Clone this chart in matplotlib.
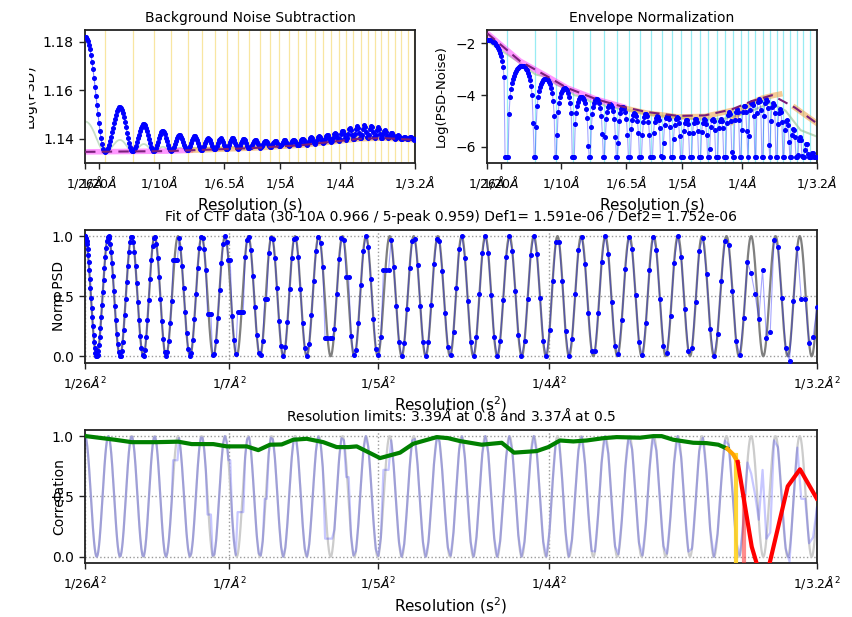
import numpy as np
import matplotlib
matplotlib.use("Agg")
import matplotlib.pyplot as plt
from matplotlib.patches import Rectangle

# ---------------- data ----------------
# resolution tick positions (Angstrom)
res_ticks_s = [26, 20, 10, 6.5, 5, 4, 3.2]
res_ticks_s2 = [26, 7, 5, 4, 3.2]

# positions of the CTF zeros (s^2 in 1/A^2)
ctf_zeros_s2 = [0.00302, 0.00608, 0.00914, 0.01212, 0.01528, 0.01834, 0.02141,
                0.02447, 0.02753, 0.03061, 0.03376, 0.03686, 0.03994, 0.04309,
                0.04624, 0.04944, 0.05250, 0.05565, 0.05886, 0.06205, 0.06507,
                0.06827, 0.07142, 0.07462, 0.07778, 0.08097, 0.08412, 0.08741,
                0.09060, 0.09381, 0.09696]

# --- Background noise subtraction panel
bg_s = [0.0385, 0.0399, 0.1063, 0.1755, 0.2170, 0.2444, 0.2668, 0.2859, 0.3108, 0.3125]
bg_val = [1.1345, 1.1345, 1.1348, 1.1360, 1.1372, 1.1387, 1.1399, 1.1402, 1.1395, 1.1395]
# height of each CTF ring above background (one per oscillation)
psd_ring_height = [0.0475, 0.0185, 0.0112, 0.0084, 0.0064, 0.0058, 0.0047, 0.0045,
                   0.0045, 0.0040, 0.0033, 0.0027, 0.0025, 0.0025, 0.0025, 0.0026,
                   0.0028, 0.0030, 0.0032, 0.0036, 0.0042, 0.0050, 0.0055, 0.0055,
                   0.0052, 0.0045, 0.0035, 0.0025, 0.0016, 0.0011, 0.0010, 0.0008]
smooth_ring_height = [0.0125, 0.0048, 0.0030, 0.0018, 0.0012, 0.0010, 0.0008, 0.0006,
                      0.0005, 0.0005, 0.0005, 0.0005, 0.0005, 0.0005, 0.0005, 0.0005,
                      0.0005, 0.0005, 0.0005, 0.0005, 0.0005, 0.0005, 0.0005, 0.0005,
                      0.0005, 0.0005, 0.0005, 0.0005, 0.0005, 0.0005, 0.0005, 0.0005]
bg_magenta_end_s = 0.126

# --- Envelope normalization panel
env_s = [0.03846, 0.06586, 0.08804, 0.10465, 0.12956, 0.15165, 0.17108, 0.19732,
         0.21949, 0.24167, 0.25827, 0.27513, 0.29423, 0.31250]
env_val = [-1.60, -2.68, -3.26, -3.71, -4.16, -4.45, -4.65, -4.80,
           -4.78, -4.55, -4.23, -4.00, -4.48, -5.09]
ring_peak_log = [-1.85, -2.86, -3.36, -3.72, -4.05, -4.15, -4.35, -4.45,
                 -4.70, -4.72, -4.80, -4.78, -4.85, -4.95, -4.90, -4.92,
                 -4.90, -4.90, -4.65, -4.55, -4.40, -4.25, -4.15, -4.15,
                 -4.30, -4.55, -4.95, -5.30, -5.60, -5.85, -6.20, -6.20]
ring_noise_level = [0.03, 0.03, 0.03, 0.04, 0.05, 0.06, 0.08, 0.10,
                    0.15, 0.15, 0.15, 0.15, 0.15, 0.15, 0.15, 0.15,
                    0.15, 0.15, 0.15, 0.15, 0.12, 0.10, 0.10, 0.10,
                    0.10, 0.10, 0.10, 0.12, 0.15, 0.15, 0.15, 0.15]
log_floor = -6.4
smooth_s = [0.03846, 0.06586, 0.07880, 0.08876, 0.09623, 0.10453, 0.11118, 0.11782,
            0.12447, 0.13111, 0.13775, 0.15352, 0.17428, 0.21580, 0.23656, 0.25317,
            0.27393, 0.28639, 0.29884, 0.31250]
smooth_val = [-1.90, -2.75, -3.20, -3.30, -3.60, -3.75, -4.00, -4.05,
              -4.25, -4.25, -4.45, -4.55, -4.75, -4.95, -4.90, -4.70,
              -4.30, -4.60, -5.35, -5.60]
orange_rise_s = [0.24167, 0.24998, 0.25827, 0.26657, 0.27513, 0.28154]
orange_rise_val = [-5.03, -4.55, -4.30, -4.12, -4.02, -3.96]

# --- Normalized fit panel: regions where the data departs from the fit
dev_s2_lo = [0.0129, 0.0174, 0.0202, 0.0215, 0.0249, 0.0328, 0.0357, 0.0405,
             0.0888, 0.0893, 0.0905, 0.0916, 0.0937, 0.0953, 0.0972]
dev_s2_hi = [0.0138, 0.0182, 0.0208, 0.0225, 0.0256, 0.0340, 0.0363, 0.0414,
             0.0890, 0.0900, 0.0907, 0.0917, 0.0940, 0.0966, 0.0974]
dev_val = [0.80, 0.35, 0.80, 0.37, 0.48, 0.15, 0.66, 0.72,
           0.69, 0.52, 0.72, 0.20, -0.04, 0.48, 0.16]

# --- Correlation panel
corr_s2 = [0.00161, 0.00542, 0.00762, 0.01090, 0.01374, 0.01550, 0.01834, 0.02010,
           0.02273, 0.02425, 0.02579, 0.02732, 0.02885, 0.03061, 0.03279, 0.03455,
           0.03607, 0.03718, 0.04024, 0.04287, 0.04461, 0.04769, 0.04921, 0.05075,
           0.05360, 0.05623, 0.05785, 0.06083, 0.06235, 0.06389, 0.06564, 0.06740,
           0.06958, 0.07134, 0.07440, 0.07615, 0.07725, 0.07878, 0.08140, 0.08316,
           0.08469, 0.08587]
corr_val = [1.000, 0.970, 0.950, 0.950, 0.954, 0.934, 0.934, 0.915,
            0.915, 0.884, 0.929, 0.931, 0.970, 0.978, 0.950, 0.909,
            0.909, 0.915, 0.818, 0.863, 0.937, 0.992, 0.983, 0.959,
            0.929, 0.945, 0.863, 0.876, 0.909, 0.964, 0.956, 0.964,
            0.983, 0.992, 0.987, 1.000, 1.000, 0.970, 0.945, 0.942,
            0.929, 0.896]
corr_mid_s2 = [0.08587, 0.08662, 0.08724]
corr_mid_val = [0.896, 0.850, 0.785]
corr_low_s2 = [0.08724, 0.08908, 0.08994, 0.09126, 0.09381, 0.09542, 0.09762]
corr_low_val = [0.785, 0.083, -0.10, -0.10, 0.584, 0.725, 0.483]
res_limit_08 = 3.39
res_limit_05 = 3.37

title_mid = "Fit of CTF data (30-10A 0.966 / 5-peak 0.959) Def1= 1.591e-06 / Def2= 1.752e-06"
title_bot = "Resolution limits: 3.39$\\AA$ at 0.8 and 3.37$\\AA$ at 0.5"

# ---------------- helpers ----------------
s_min, s_max = 1.0 / 26, 1.0 / 3.2
s = np.linspace(s_min, s_max, 330)          # sampling grid of the spectrum
s2 = s ** 2

z = np.array(ctf_zeros_s2)
zi = np.arange(1, len(z) + 1, dtype=float)
def ring_phase(x2):
    x2 = np.asarray(x2, float)
    p = np.interp(x2, z, zi)
    lo = x2 < z[0]
    p[lo] = 1 - (z[0] - x2[lo]) / (z[1] - z[0])
    hi = x2 > z[-1]
    p[hi] = zi[-1] + (x2[hi] - z[-1]) / (z[-1] - z[-2])
    return p

def ring_shape(x2):
    return np.sin(np.pi * ring_phase(x2)) ** 2

def ring_index(x2):
    return np.clip(np.floor(ring_phase(x2) + 1e-9).astype(int), 0, 31)

# ---------------- figure ----------------
W, H = 853, 617
fig = plt.figure(figsize=(W / 100, H / 100), dpi=100)

def axrect(l, t, r, b):
    return [l / W, 1 - b / H, (r - l) / W, (b - t) / H]

ax1 = fig.add_axes(axrect(85, 30, 415, 162.5))
ax2 = fig.add_axes(axrect(487, 30, 817, 162.5))
ax3 = fig.add_axes(axrect(85, 229.5, 817, 362.5))
ax4 = fig.add_axes(axrect(85, 429.5, 817, 563))

for ax in (ax1, ax2, ax3, ax4):
    for sp in ax.spines.values():
        sp.set_linewidth(1.3)
        sp.set_color("#222222")
    ax.tick_params(labelsize=10, width=1.0, length=4.5, color="#222222")

zero_s = np.sqrt(z)
idx = ring_index(s2)
shape = ring_shape(s2)

# ---- panel 1: background noise subtraction
bg = np.interp(s, bg_s, bg_val)
h = np.array(psd_ring_height)[idx]
g = np.array(smooth_ring_height)[idx]
for zs in zero_s:
    ax1.axvline(zs, color="#f7e08a", lw=0.9, alpha=0.8, zorder=1)
ax1.plot(s, bg + g * shape, color="#8fc08f", lw=1.3, alpha=0.5, zorder=2)
m = s <= bg_magenta_end_s
ax1.plot(s[m], bg[m], color="#ff44ff", lw=4, alpha=0.55, zorder=2)
ax1.plot(s[s >= bg_magenta_end_s - 0.002], bg[s >= bg_magenta_end_s - 0.002],
         color="#f0a040", lw=4, alpha=0.55, zorder=2)
ax1.plot(s, bg + h * shape, color="blue", lw=0.8, alpha=0.5, zorder=3)
ax1.plot(s, bg + h * shape, ls="none", marker="o", ms=2.6, color="blue", zorder=4)
ax1.plot(bg_s, bg_val, color="#7a1f7a", lw=1.5, ls=(0, (5, 3)), zorder=5)
ax1.set_xlim(s_min, s_max)
ax1.set_ylim(1.1301, 1.1848)
ax1.set_yticks([1.14, 1.16, 1.18])
ax1.set_title("Background Noise Subtraction", fontsize=10)

# ---- panel 2: envelope normalization
pk = np.array(ring_peak_log)[idx]
nz = np.array(ring_noise_level)[idx]
logd = pk + np.log10(np.clip((shape - nz) / (1 - nz), 1e-9, None))
logd = np.clip(logd, log_floor, None)
for zs in zero_s:
    ax2.axvline(zs, color="#7fe8f0", lw=0.9, alpha=0.8, zorder=1)
ax2.plot(smooth_s, smooth_val, color="#8fc08f", lw=1.5, alpha=0.6, zorder=2)
env_s_a = np.array(env_s)
env_v_a = np.array(env_val)
mm = env_s_a <= 0.152
ax2.plot(env_s_a[mm], env_v_a[mm], color="#ff44ff", lw=4, alpha=0.55, zorder=2)
mo = (env_s_a >= 0.151) & (env_s_a <= 0.242)
ax2.plot(env_s_a[mo], env_v_a[mo] - 0.04, color="#f0a040", lw=4, alpha=0.55, zorder=2)
ax2.plot(orange_rise_s, orange_rise_val, color="#f0a040", lw=4, alpha=0.55, zorder=2)
mr = env_s_a >= 0.294
ax2.plot(env_s_a[mr], env_v_a[mr], color="#f0a040", lw=4, alpha=0.55, zorder=2)
ax2.plot(s, logd, color="blue", lw=0.8, alpha=0.35, zorder=3)
ax2.plot(s, logd, ls="none", marker="o", ms=2.6, color="blue", zorder=4)
ax2.plot(env_s, env_val, color="#7a1f7a", lw=1.5, ls=(0, (5, 3)), zorder=5)
ax2.set_xlim(s_min, s_max)
ax2.set_ylim(-6.6, -1.48)
ax2.set_yticks([-6, -4, -2])
ax2.set_title("Envelope Normalization", fontsize=10)
ax2.set_ylabel("Log(PSD-Noise)", fontsize=9.5)
ax2.yaxis.set_label_coords(-0.118, 0.5)

for ax in (ax1, ax2):
    ax.set_xticks([1.0 / r for r in res_ticks_s])
    ax.set_xticklabels(["1/%g$\\AA$" % r for r in res_ticks_s], fontsize=9)
    ax.set_xlabel("Resolution (s)", fontsize=11, labelpad=5)

ax1.set_ylabel("Log(PSD)", fontsize=10)
ax1.yaxis.set_label_coords(-0.148, 0.5)
fig.patches.append(Rectangle((0, 1 - 150 / H), 29 / W, 110 / H, transform=fig.transFigure,
                             facecolor="white", edgecolor="none", zorder=5))

# ---- panel 3: normalized fit
data = shape.copy()
for lo_, hi_, v in zip(dev_s2_lo, dev_s2_hi, dev_val):
    sel = (s2 >= lo_) & (s2 <= hi_)
    sel[np.argmin(np.abs(s2 - 0.5 * (lo_ + hi_)))] = True
    data[sel] = v
fine_s2 = np.linspace(s2[0], s2[-1], 3000)
ax3.plot(fine_s2, ring_shape(fine_s2), color="#7f7f7f", lw=1.6, zorder=2)
ax3.plot(s2, data, color="blue", lw=0.8, alpha=0.35, zorder=3)
ax3.plot(s2, data, ls="none", marker="o", ms=2.6, color="blue", zorder=4)
ax3.set_title(title_mid, fontsize=10)
ax3.set_ylabel("Norm PSD", fontsize=10)

# ---- panel 4: correlation
ax4.plot(fine_s2, ring_shape(fine_s2), color="#cccccc", lw=1.6, zorder=2)
ax4.plot(s2, data, color="blue", lw=1.6, alpha=0.22, zorder=3)
ax4.plot([1 / res_limit_08 ** 2] * 2, [0.84, -0.1], color="#ffd21f", lw=3, alpha=0.9, zorder=4)
ax4.plot([1 / res_limit_05 ** 2] * 2, [0.5, -0.1], color="#ff3030", lw=3, alpha=0.55, zorder=4)
ax4.plot(corr_s2, corr_val, color="#008000", lw=3, zorder=5)
ax4.plot(corr_mid_s2, corr_mid_val, color="#ffa500", lw=3, zorder=5)
ax4.plot(corr_low_s2, corr_low_val, color="#ff0000", lw=3, zorder=5)
ax4.set_title(title_bot, fontsize=10)
ax4.set_ylabel("Correlation", fontsize=10)

for ax in (ax3, ax4):
    ax.set_xlim(s2[0], s2[-1])
    ax.set_ylim(-0.052, 1.055)
    ax.set_yticks([0.0, 0.5, 1.0])
    ax.set_xticks([1.0 / r ** 2 for r in res_ticks_s2])
    ax.set_xticklabels(["1/%g$\\AA^2$" % r for r in res_ticks_s2], fontsize=9)
    ax.set_xlabel("Resolution (s$^2$)", fontsize=11, labelpad=3)
    ax.grid(True, ls=":", color="#9a9a9a", lw=1.0)
    ax.set_axisbelow(True)
    ax.yaxis.set_label_coords(-0.026, 0.5)

fig.savefig("out.png", dpi=100)
